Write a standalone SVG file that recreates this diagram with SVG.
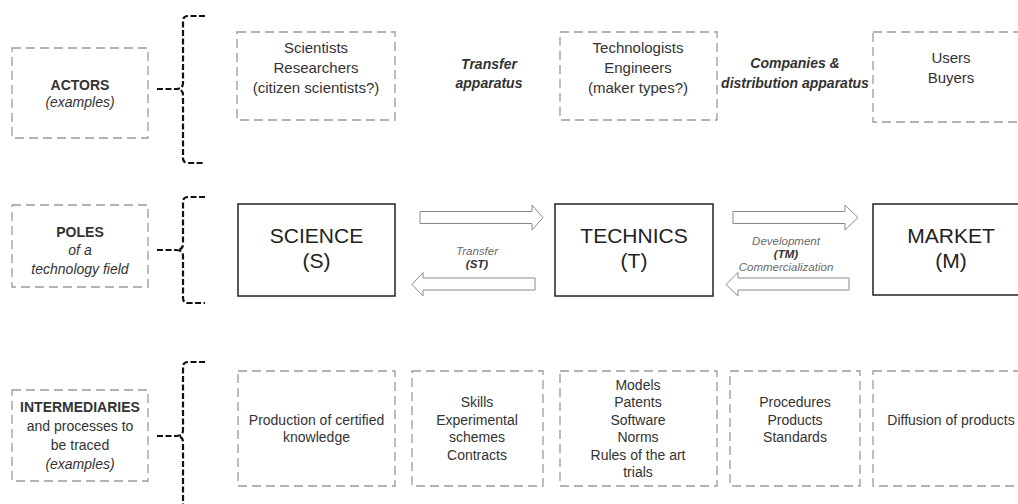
<svg xmlns="http://www.w3.org/2000/svg" width="1018" height="504" viewBox="0 0 1018 504">
<style>
  text { font-family: "Liberation Sans", Arial, sans-serif; fill: #333; text-anchor: middle; }
  .dbox { fill: none; stroke: #9a9a9a; stroke-width: 1.3; stroke-dasharray: 9 5; }
  .sbox { fill: #fff; stroke: #222; stroke-width: 1.5; }
  .brace { fill: none; stroke: #111; stroke-width: 2.2; stroke-dasharray: 6 2.5; }
  .arrow { fill: #fff; stroke: #8a8a8a; stroke-width: 1; }
  .t { font-size: 14px; }
  .ta { font-size: 15px; }
  .b { font-weight: bold; }
  .i { font-style: italic; }
  .big { font-size: 21px; fill: #222; }
  .lbl { font-size: 11.5px; font-style: italic; fill: #6a6a6a; }
  .lblb { font-size: 11.5px; font-style: italic; font-weight: bold; fill: #333; }
</style>

<!-- Left category labels -->
<g id="actors-label">
  <rect class="dbox" x="12" y="48" width="136" height="90"/>
  <text class="t b" x="80" y="90">ACTORS</text>
  <text class="t i" x="80" y="107">(examples)</text>
</g>
<g id="poles-label">
  <rect class="dbox" x="12" y="205" width="136" height="82"/>
  <text class="t b" x="80" y="237">POLES</text>
  <text class="t i" x="80" y="255">of a</text>
  <text class="t i" x="80" y="274">technology field</text>
</g>
<g id="intermediaries-label">
  <rect class="dbox" x="12" y="390" width="136" height="91"/>
  <text class="t b" x="80" y="412">INTERMEDIARIES</text>
  <text class="t" x="80" y="431">and processes to</text>
  <text class="t" x="80" y="450">be traced</text>
  <text class="t i" x="80" y="469">(examples)</text>
</g>

<!-- Braces -->
<g id="braces">
  <path class="brace" d="M205,16 L188,16 Q183,16 183,21 L183,83 Q183,89 176,89 Q183,89 183,95 L183,158 Q183,163 188,163 L205,163"/>
  <path class="brace" d="M157,89 L176,89"/>
  <path class="brace" d="M205,197 L188,197 Q183,197 183,202 L183,244 Q183,250 176,250 Q183,250 183,256 L183,298 Q183,303 188,303 L205,303"/>
  <path class="brace" d="M157,250 L176,250"/>
  <path class="brace" d="M205,362 L188,362 Q183,362 183,367 L183,430 Q183,436 176,436 Q183,436 183,442 L183,510"/>
  <path class="brace" d="M157,436 L176,436"/>
</g>

<!-- Actors row -->
<g id="actor-scientists">
  <rect class="dbox" x="237" y="32" width="158" height="88"/>
  <text class="ta" x="316" y="53">Scientists</text>
  <text class="ta" x="316" y="73">Researchers</text>
  <text class="ta" x="316" y="93">(citizen scientists?)</text>
</g>
<g id="actor-transfer">
  <text class="t b i" x="489" y="69">Transfer</text>
  <text class="t b i" x="489" y="88">apparatus</text>
</g>
<g id="actor-technologists">
  <rect class="dbox" x="560" y="32" width="157" height="88"/>
  <text class="ta" x="638" y="53">Technologists</text>
  <text class="ta" x="638" y="73">Engineers</text>
  <text class="ta" x="638" y="93">(maker types?)</text>
</g>
<g id="actor-companies">
  <text class="t b i" x="795" y="68">Companies &amp;</text>
  <text class="t b i" x="795" y="88">distribution apparatus</text>
</g>
<g id="actor-users">
  <rect class="dbox" x="873" y="32" width="160" height="90"/>
  <text class="ta" x="951" y="63">Users</text>
  <text class="ta" x="951" y="83">Buyers</text>
</g>

<!-- Poles row -->
<g id="pole-science">
  <rect class="sbox" x="238" y="204" width="157" height="92"/>
  <text class="big" x="316.5" y="243">SCIENCE</text>
  <text class="big" x="316.5" y="268">(S)</text>
</g>
<g id="pole-technics">
  <rect class="sbox" x="555" y="204" width="158" height="92"/>
  <text class="big" x="634" y="243">TECHNICS</text>
  <text class="big" x="634" y="268">(T)</text>
</g>
<g id="pole-market">
  <rect class="sbox" x="873" y="204" width="160" height="91"/>
  <text class="big" x="951" y="243">MARKET</text>
  <text class="big" x="951" y="268">(M)</text>
</g>

<!-- Connectors -->
<g id="connectors">
  <path class="arrow" d="M420,211.5 L532,211.5 L532,205 L543,217.5 L532,230 L532,223.5 L420,223.5 Z"/>
  <path class="arrow" d="M535,278 L423,278 L423,272.5 L412,284.5 L423,296 L423,290 L535,290 Z"/>
  <path class="arrow" d="M733,211.5 L845,211.5 L845,205 L858,217.5 L845,230 L845,223.5 L733,223.5 Z"/>
  <path class="arrow" d="M849,278 L738,278 L738,272.5 L726,284.5 L738,296 L738,290 L849,290 Z"/>
  <text class="lbl" x="477" y="255">Transfer</text>
  <text class="lblb" x="477" y="268">(ST)</text>
  <text class="lbl" x="786" y="245">Development</text>
  <text class="lblb" x="786" y="258">(TM)</text>
  <text class="lbl" x="786" y="271">Commercialization</text>
</g>

<!-- Intermediaries row -->
<g id="inter-production">
  <rect class="dbox" x="238" y="371" width="157" height="115"/>
  <text class="t" x="316.5" y="425">Production of certified</text>
  <text class="t" x="316.5" y="442">knowledge</text>
</g>
<g id="inter-skills">
  <rect class="dbox" x="412" y="371" width="131" height="115"/>
  <text class="t" x="477" y="407">Skills</text>
  <text class="t" x="477" y="424.5">Experimental</text>
  <text class="t" x="477" y="442">schemes</text>
  <text class="t" x="477" y="459.5">Contracts</text>
</g>
<g id="inter-models">
  <rect class="dbox" x="560" y="371" width="157" height="115"/>
  <text class="t" x="638" y="389.5">Models</text>
  <text class="t" x="638" y="407">Patents</text>
  <text class="t" x="638" y="424.5">Software</text>
  <text class="t" x="638" y="442">Norms</text>
  <text class="t" x="638" y="459.5">Rules of the art</text>
  <text class="t" x="638" y="477">trials</text>
</g>
<g id="inter-procedures">
  <rect class="dbox" x="730" y="371" width="130" height="115"/>
  <text class="t" x="795" y="407">Procedures</text>
  <text class="t" x="795" y="424.5">Products</text>
  <text class="t" x="795" y="442">Standards</text>
</g>
<g id="inter-diffusion">
  <rect class="dbox" x="873" y="371" width="160" height="115"/>
  <text class="t" x="951" y="425">Diffusion of products</text>
</g>
</svg>
